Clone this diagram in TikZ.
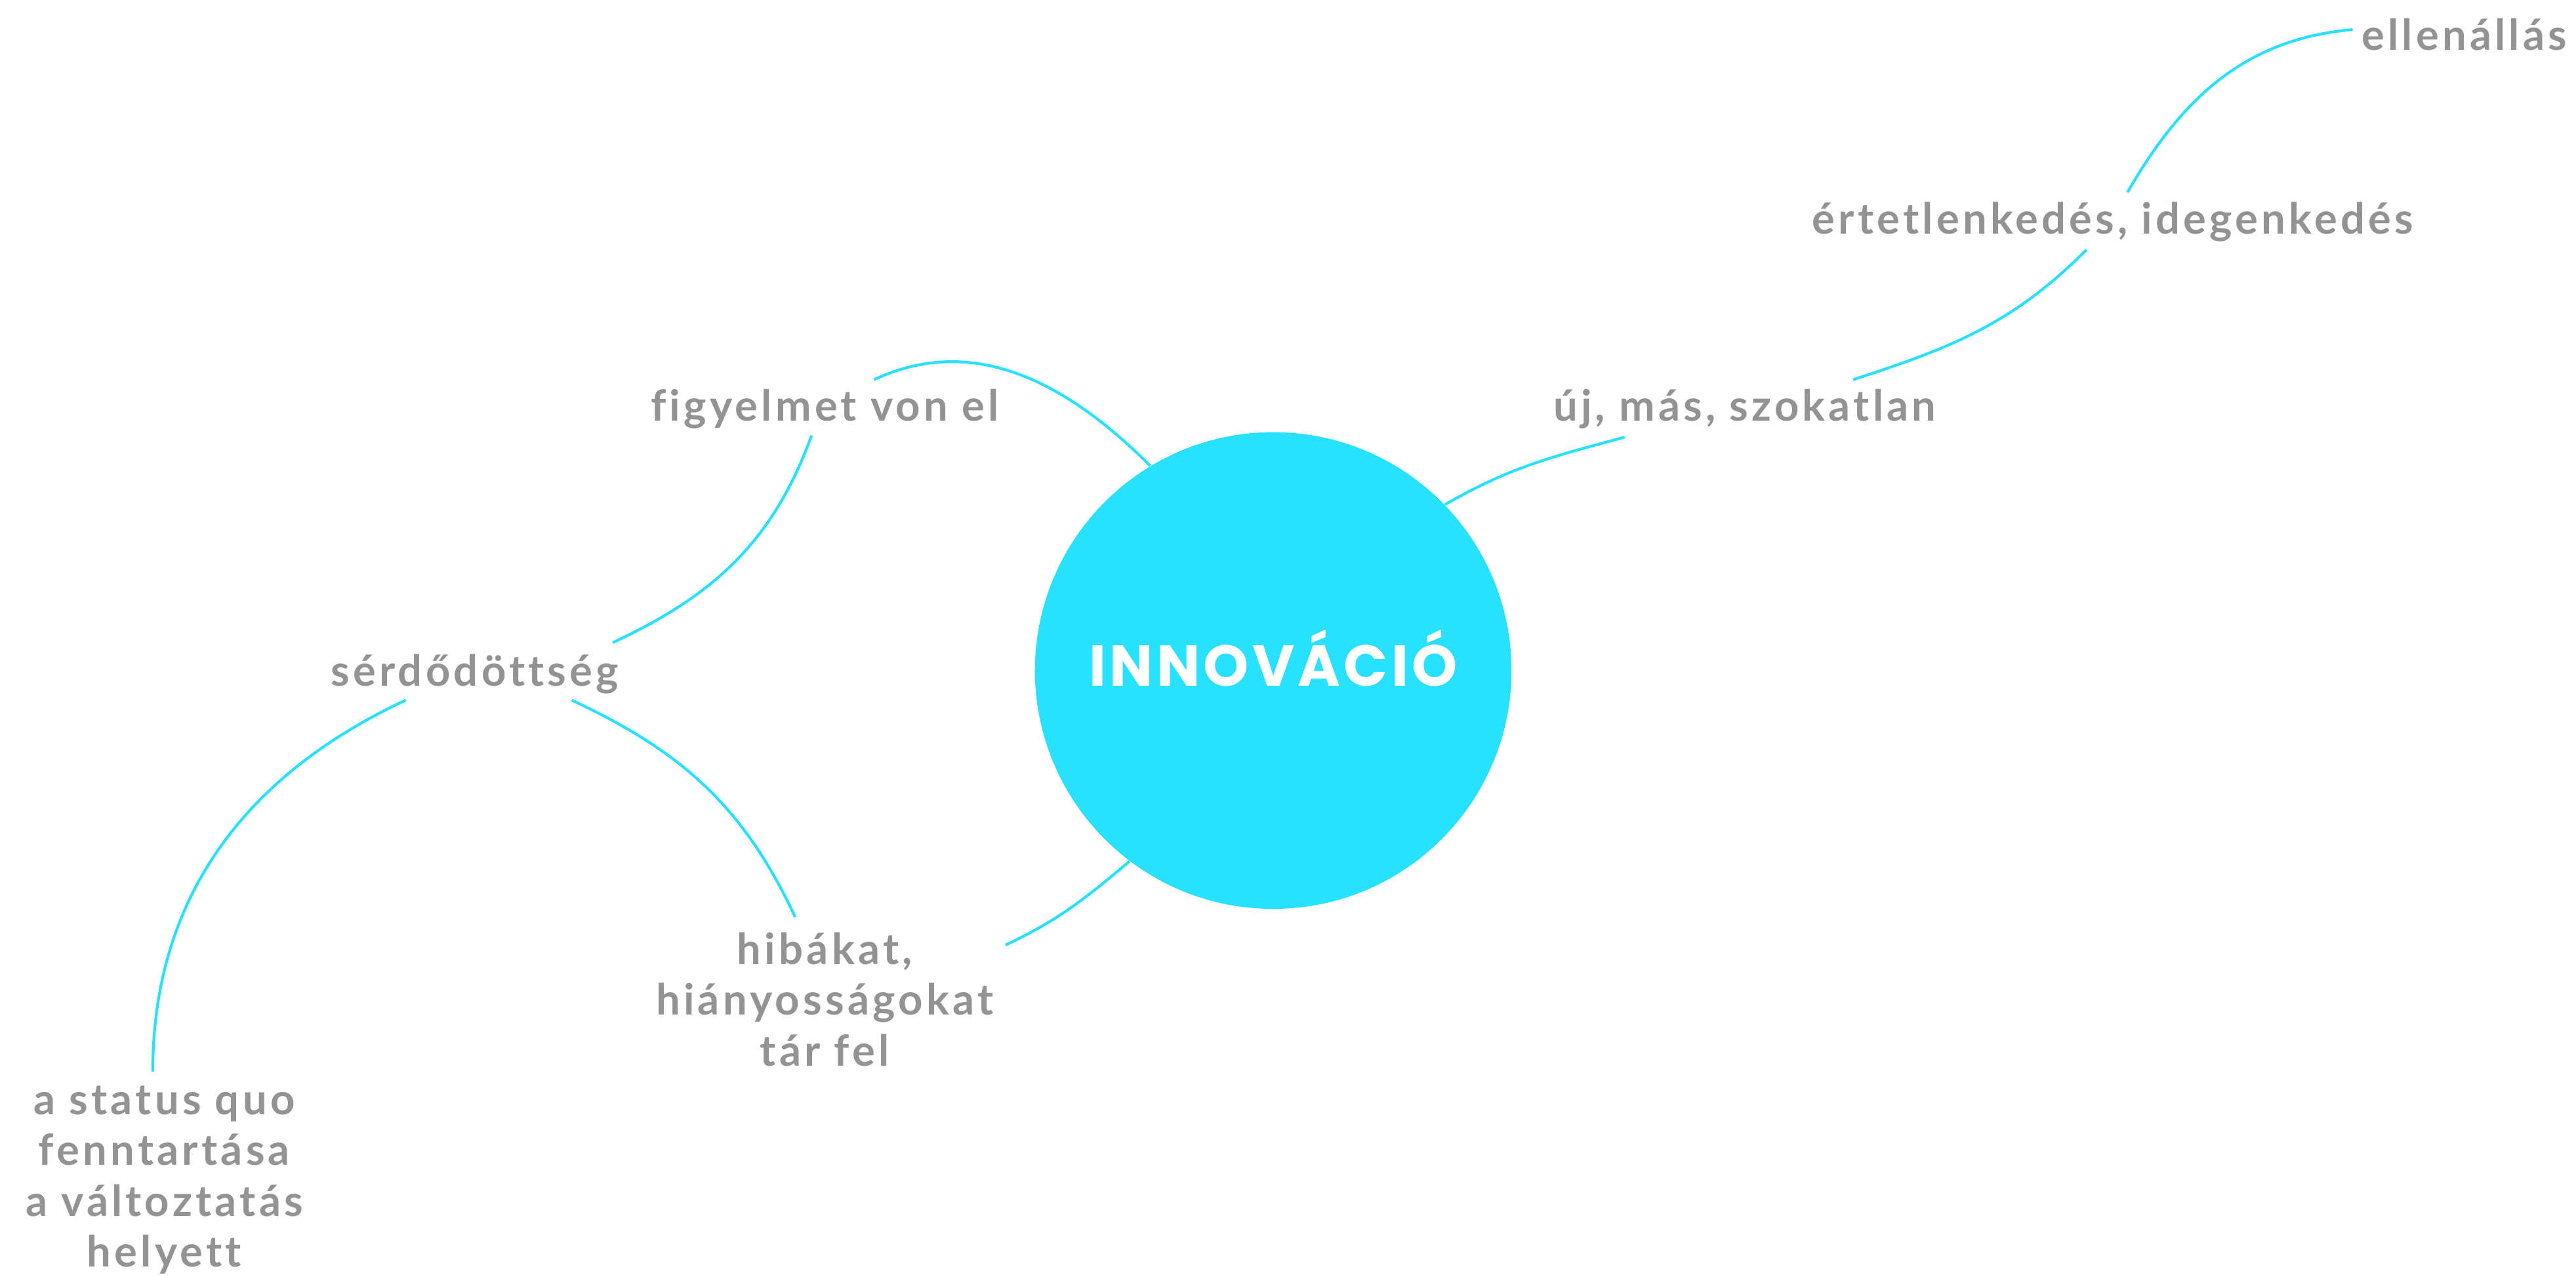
\documentclass[tikz,border=0pt]{standalone}
\usepackage{fontspec}
\usepackage{xcolor}
\usetikzlibrary{positioning}
\newfontfamily\lblfont[LetterSpace=8,Ligatures=NoCommon]{Lato}
\newfontfamily\ttlfont[LetterSpace=6]{Poppins}
\definecolor{innocyan}{HTML}{28E0FF}
\definecolor{lblgray}{HTML}{939393}

\begin{document}
\begin{tikzpicture}[
    x=0.025cm, y=-0.025cm,
    hub/.style={circle, fill=innocyan, minimum size=7.25cm, inner sep=0pt,
                text=white, font=\ttlfont\bfseries\fontsize{25}{29}\selectfont},
    lbl/.style={align=center, inner sep=0pt, text=lblgray,
                font=\lblfont\bfseries\fontsize{18.5}{22}\selectfont},
    link/.style={innocyan, line width=1.2pt}
  ]
    \useasboundingbox (0,0) rectangle (1568,777);

    \node[hub] (inno) at (775,408) {\raisebox{5.5pt}[\height][\depth]{INNOVÁCIÓ}};

    \node[lbl] (figy) at (502,249)  {figyelmet von el};
    \node[lbl] (serd) at (289,410)  {sérdődöttség};
    \node[lbl] (hiba) at (502,608)  {hibákat,\\hiányosságokat\\tár fel};
    \node[lbl] (stat) at (100,718)  {a status quo\\fenntartása\\a változtatás\\helyett};
    \node[lbl] (uj)   at (1062,249) {új, más, szokatlan};
    \node[lbl] (ert)  at (1286,135) {értetlenkedés, idegenkedés};
    \node[lbl] (ell)  at (1500,21)  {ellenállás};

    % left branch
    \draw[link] ([shift={(30,-18)}]figy.center) to[out=25, in=135] (inno.121);
    \draw[link] ([shift={(-8,16)}]figy.center) to[out=250, in=25] ([shift={(84,-19)}]serd.center);
    \draw[link] ([shift={(-42,16)}]serd.center) to[out=205, in=90] ([shift={(-7,-66)}]stat.center);
    \draw[link] ([shift={(59,16)}]serd.center) to[out=-25, in=115] ([shift={(-18,-50)}]hiba.center);
    \draw[link] ([shift={(110,-33)}]hiba.center) to[out=25, in=220] (inno.233);

    % right branch
    \draw[link] (inno.44) to[out=30, in=195] ([shift={(-73,17)}]uj.center);
    \draw[link] ([shift={(66,-18)}]uj.center) to[out=18, in=225] ([shift={(-16,17)}]ert.center);
    \draw[link] ([shift={(9,-18)}]ert.center) to[out=60, in=185] ([shift={(-68,-3)}]ell.center);
\end{tikzpicture}
\end{document}
